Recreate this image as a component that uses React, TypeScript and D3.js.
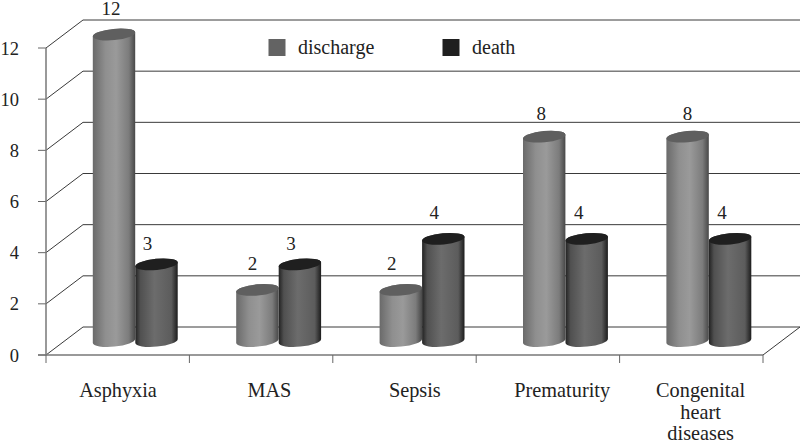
import React from "react";
import * as d3 from "d3";

const categories = ["Asphyxia", "MAS", "Sepsis", "Prematurity", "Congenital heart diseases"];
const discharge = [12, 2, 2, 8, 8];
const death = [3, 3, 4, 4, 4];
const yTicks = [0, 2, 4, 6, 8, 10, 12];
const seriesNames = ["discharge", "death"];

// hand-placed label nudges, as in the reference
const catNudge = [0, 8, 10, 14, 9];
const dischargeLabelDx = [-3, -5, -9, -3, 0];
const deathLabelDx = [-9, -9, -9, -8, -8];
const dischargeLabelDy = [-19.5, -20, -20, -17, -17];
const deathLabelDy = [-14.5, -14.5, -20, -20, -20];

const W = 800, H = 442;
const font = "'Liberation Serif', serif";
const x0 = 46, x1 = 763, dx = 37, dy = -28;
const y = d3.scaleLinear().domain([0, 12]).range([355, 48]);
const xBand = d3.scaleBand<number>().domain(d3.range(5)).range([x0, x1]);
const barH = d3.scaleLinear().domain([0, 12]).range([341, 34.5]);
const R = 21.3, RY = 5.6, TILT = -5.5;
const ink = "#222";

function cylPath(cx: number, top: number, bottom: number) {
  const a = (TILT * Math.PI) / 180;
  const ox = R * Math.cos(a), oy = R * Math.sin(a);
  return `M${cx - ox},${top - oy}L${cx - ox},${bottom - oy}A${R},${RY} ${TILT} 0 0 ${cx + ox},${bottom + oy}L${cx + ox},${top + oy}A${R},${RY} ${TILT} 0 0 ${cx - ox},${top - oy}Z`;
}

function Cyl({ cx, v, grad, topFill, ldx, ldy }: { cx: number; v: number; grad: string; topFill: string; ldx: number; ldy: number }) {
  const top = barH(v), bottom = barH(0);
  return (
    <g>
      <path d={cylPath(cx, top, bottom)} fill={`url(#${grad})`} />
      <ellipse cx={0} cy={0} rx={R} ry={RY} fill={topFill} transform={`translate(${cx},${top}) rotate(${TILT})`} />
      <text x={cx + ldx} y={top + ldy} textAnchor="middle" fontSize={19} fontFamily={font} fill={ink}>{v}</text>
    </g>
  );
}

export default function App() {
  return (
    <svg width={W} height={H} viewBox={`0 0 ${W} ${H}`} style={{ position: "absolute", left: 0, top: 0, background: "#fff" }}>
      <defs>
        <linearGradient id="gD">
          <stop offset="0" stopColor="#6a6a6a" />
          <stop offset="0.3" stopColor="#8f8f8f" />
          <stop offset="0.55" stopColor="#9a9a9a" />
          <stop offset="0.85" stopColor="#7c7c7c" />
          <stop offset="1" stopColor="#484848" />
        </linearGradient>
        <linearGradient id="gX">
          <stop offset="0" stopColor="#222222" />
          <stop offset="0.12" stopColor="#505050" />
          <stop offset="0.45" stopColor="#6c6c6c" />
          <stop offset="0.85" stopColor="#5c5c5c" />
          <stop offset="1" stopColor="#1c1c1c" />
        </linearGradient>
      </defs>
      {yTicks.map((t) => (
        <g key={t} fill="none">
          <path d={`M${x0},${y(t)}L${x0 + dx},${y(t) + dy}L${x1 + dx},${y(t) + dy}`} stroke="#3a3a3a" strokeWidth={1} />
          <line x1={38} x2={x0} y1={y(t)} y2={y(t)} stroke="#666" strokeWidth={1} />
          <text x={19} y={y(t) + 6.5} textAnchor="end" fontSize={18.5} fontFamily={font} fill={ink}>{t}</text>
        </g>
      ))}
      <line x1={x1} y1={y(0)} x2={x1 + dx} y2={y(0) + dy} stroke="#3a3a3a" />
      <line x1={x0} x2={x0} y1={y(12)} y2={y(0)} stroke="#777" strokeWidth={1.5} />
      <line x1={38} x2={x1} y1={y(0)} y2={y(0)} stroke="#777" strokeWidth={1.5} />
      {d3.range(6).map((i) => {
        const xx = i < 5 ? xBand(i)! : x1;
        return <line key={i} x1={xx} x2={xx} y1={355} y2={363} stroke="#666" />;
      })}
      {categories.map((c, i) => {
        const cx = xBand(i)! + 68;
        const lines = i === 4 ? c.split(" ") : [c];
        return (
          <g key={c}>
            <Cyl cx={cx} v={discharge[i]} grad="gD" topFill="#5f5f5f" ldx={dischargeLabelDx[i]} ldy={dischargeLabelDy[i]} />
            <Cyl cx={cx + 42.5} v={death[i]} grad="gX" topFill="#1f1f1f" ldx={deathLabelDx[i]} ldy={deathLabelDy[i]} />
            {lines.map((l, k) => (
              <text key={l} x={xBand(i)! + 72 + catNudge[i]} y={397 + k * 21.5} textAnchor="middle" fontSize={20.3} fontFamily={font} fill={ink}>{l}</text>
            ))}
          </g>
        );
      })}
      {seriesNames.map((s, i) => {
        const lx = i === 0 ? 268.5 : 442.5;
        return (
          <g key={s}>
            <rect x={lx} y={39} width={17} height={17} fill={i === 0 ? "#636363" : "#1f1f1f"} />
            <text x={lx + 29.5} y={54} fontSize={20} fontFamily={font} fill={ink}>{s}</text>
          </g>
        );
      })}
    </svg>
  );
}
